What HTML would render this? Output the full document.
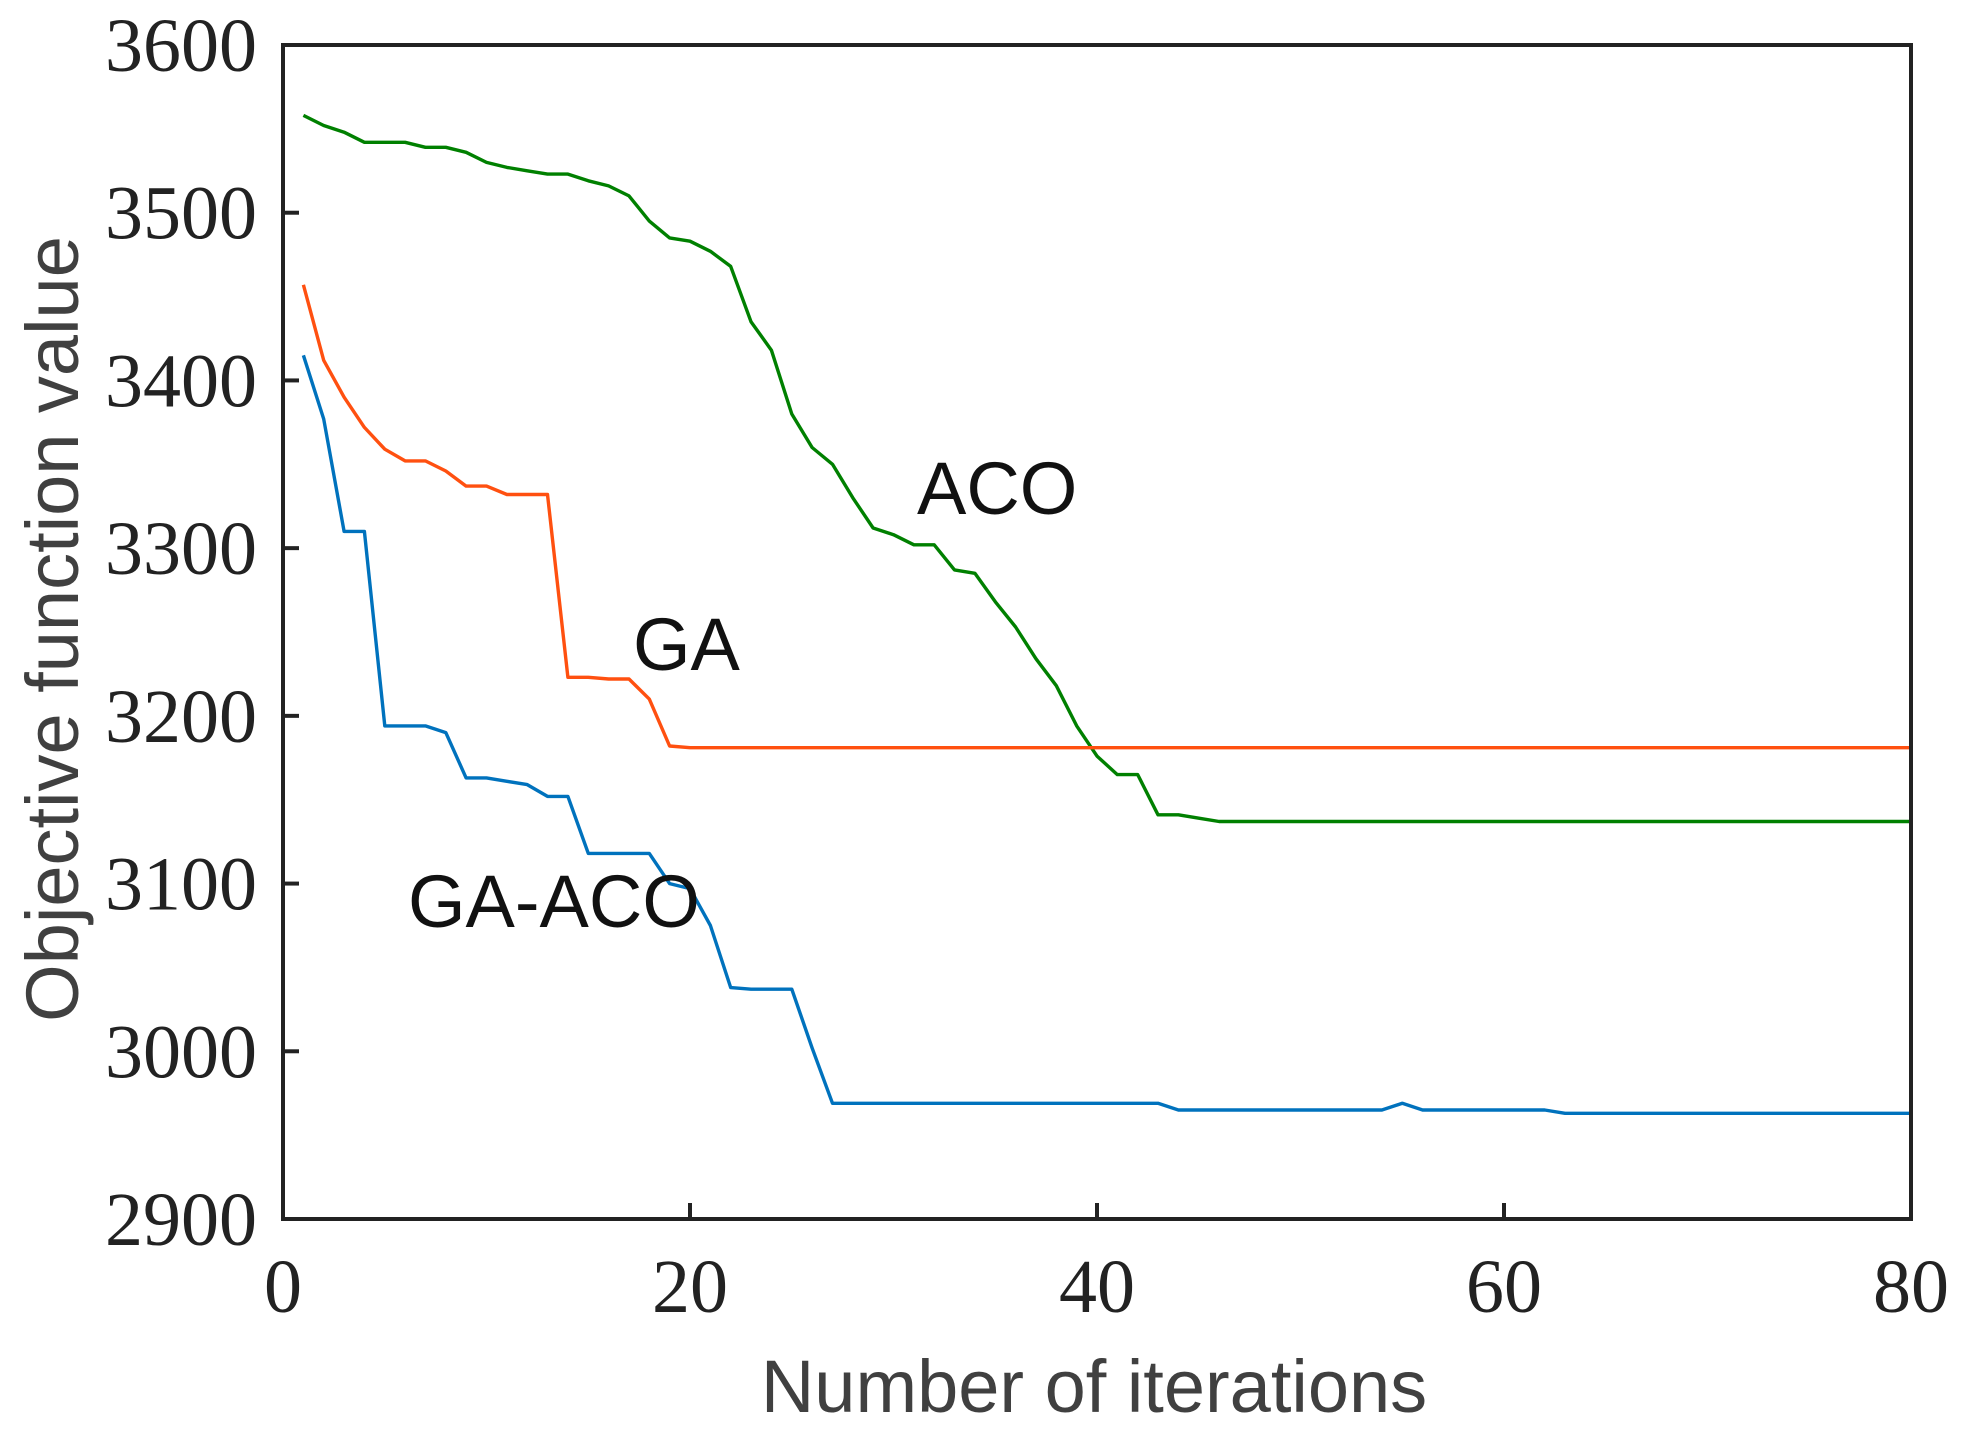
<!DOCTYPE html>
<html><head><meta charset="utf-8"><style>
html,body{margin:0;padding:0;background:#fff;}
svg{display:block}
</style></head><body>
<svg id="s" width="1964" height="1435" viewBox="0 0 1964 1435" xmlns="http://www.w3.org/2000/svg">
<g font-family="Liberation Serif, serif" font-size="76" fill="#222" id="ticks"></g>
<g id="lines" fill="none" stroke-width="3.4" stroke-linejoin="round"></g>
<rect x="283" y="45" width="1628" height="1174" fill="none" stroke="#222" stroke-width="4"/>
<g font-family="Liberation Sans, sans-serif" font-size="74" fill="#111">
<text x="917" y="514">ACO</text>
<text x="633" y="670">GA</text>
<text x="408" y="927">GA-ACO</text>
</g>
<text x="1094" y="1412" text-anchor="middle" font-family="Liberation Sans, sans-serif" font-size="74" fill="#404040">Number of iterations</text>
<text transform="translate(78,629) rotate(-90)" text-anchor="middle" font-family="Liberation Sans, sans-serif" font-size="74" fill="#404040">Objective function value</text>
</svg>
<script>
var NS="http://www.w3.org/2000/svg";
function X(i){return 283+i*1628/80;}
function Y(v){return 45+(3600-v)*1174/700;}
var t=document.getElementById('ticks'),h='';
for(var v=2900;v<=3600;v+=100){var y=Y(v);h+='<text x="257" y="'+(y+26)+'" text-anchor="end">'+v+'</text>';if(v>2900&&v<3600)h+='<line x1="283" x2="299" y1="'+y+'" y2="'+y+'" stroke="#222" stroke-width="4"/>';}
for(var i=0;i<=80;i+=20){var x=X(i);h+='<text x="'+x+'" y="1312" text-anchor="middle">'+i+'</text>';if(i>0&&i<80)h+='<line x1="'+x+'" x2="'+x+'" y1="1219" y2="1203" stroke="#222" stroke-width="4"/>';}
t.innerHTML=h;
function fill(a,n,v){while(a.length<n)a.push(v===undefined?a[a.length-1]:v);return a;}
var aco=fill([3558,3552,3548,3542,3542,3542,3539,3539,3536,3530,3527,3525,3523,3523,3519,3516,3510,3495,3485,3483,3477,3468,3435,3418,3380,3360,3350,3330,3312,3308,3302,3302,3287,3285,3268,3253,3234,3218,3194,3176,3165,3165,3141,3141,3139,3137],80);
var ga=fill([3457,3412,3390,3372,3359,3352,3352,3346,3337,3337,3332,3332,3332,3223,3223,3222,3222,3210,3182,3181],80);
var gaco=[3415,3377,3310,3310,3194,3194,3194,3190,3163,3163,3161,3159,3152,3152,3118,3118,3118,3118,3100,3097,3075,3038,3037,3037,3037,3002];
fill(gaco,43,2969);
fill(gaco,54,2965);
gaco.push(2969);
fill(gaco,62,2965);
fill(gaco,80,2963);
var L=document.getElementById('lines');
[[aco,'#008000'],[ga,'#FF5010'],[gaco,'#0072BD']].forEach(function(s){
var p=s[0].map(function(v,i){return X(i+1).toFixed(1)+','+Y(v).toFixed(1);}).join(' ');
var e=document.createElementNS(NS,'polyline');e.setAttribute('points',p);e.setAttribute('stroke',s[1]);L.appendChild(e);});
</script>
</body></html>
